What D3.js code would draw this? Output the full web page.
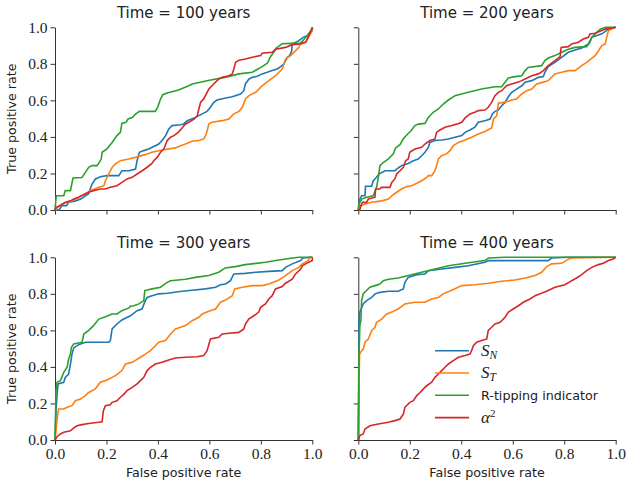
<!DOCTYPE html>
<html>
<head>
<meta charset="utf-8">
<script src="https://cdn.jsdelivr.net/npm/d3@7"></script>
<style>
  html, body { margin: 0; padding: 0; background: #fff; }
  svg { display: block; }
</style>
</head>
<body>
<div id="chart"></div>
<script>
// ---------------- DATA ----------------
const times = [100, 200, 300, 400];
const seriesKeys = ["SN", "ST", "RT", "A2"];
const tickValues = [0, 0.2, 0.4, 0.6, 0.8, 1.0];
const xLabel = "False positive rate";
const yLabel = "True positive rate";

// ROC curves: [false positive rate, true positive rate]
const SN_100 = [[0,0],[0.015,0],[0.02,0.01],[0.027,0.024],[0.045,0.024],[0.053,0.042],[0.08,0.05],[0.1,0.06],[0.118,0.078],[0.13,0.088],[0.137,0.115],[0.144,0.142],[0.157,0.17],[0.176,0.182],[0.202,0.188],[0.248,0.188],[0.26,0.215],[0.287,0.215],[0.313,0.224],[0.319,0.27],[0.328,0.316],[0.345,0.325],[0.364,0.334],[0.39,0.352],[0.403,0.361],[0.416,0.38],[0.43,0.407],[0.442,0.443],[0.455,0.462],[0.488,0.467],[0.5,0.471],[0.514,0.489],[0.546,0.507],[0.572,0.526],[0.591,0.54],[0.604,0.562],[0.617,0.589],[0.63,0.602],[0.663,0.613],[0.689,0.62],[0.721,0.635],[0.734,0.653],[0.74,0.69],[0.754,0.717],[0.767,0.726],[0.786,0.732],[0.805,0.745],[0.825,0.754],[0.844,0.763],[0.864,0.772],[0.877,0.785],[0.89,0.8],[0.903,0.836],[0.912,0.845],[0.92,0.872],[0.922,0.909],[0.948,0.927],[0.964,0.945],[0.98,0.954],[1,0.99],[1,1]];
const ST_100 = [[0,0],[0.027,0.033],[0.066,0.05],[0.092,0.07],[0.118,0.088],[0.137,0.106],[0.17,0.124],[0.19,0.133],[0.196,0.16],[0.209,0.197],[0.222,0.233],[0.235,0.252],[0.254,0.27],[0.287,0.279],[0.313,0.288],[0.35,0.303],[0.377,0.316],[0.416,0.328],[0.468,0.34],[0.488,0.352],[0.507,0.361],[0.533,0.376],[0.559,0.38],[0.578,0.389],[0.588,0.416],[0.598,0.47],[0.61,0.48],[0.65,0.489],[0.676,0.498],[0.695,0.526],[0.715,0.54],[0.728,0.562],[0.74,0.608],[0.754,0.626],[0.78,0.644],[0.805,0.68],[0.831,0.708],[0.857,0.735],[0.883,0.772],[0.896,0.827],[0.916,0.845],[0.935,0.872],[0.948,0.89],[0.955,0.918],[0.974,0.918],[0.993,0.964],[1,0.98],[1,1]];
const RT_100 = [[0,0],[0.005,0.078],[0.034,0.078],[0.04,0.106],[0.06,0.106],[0.07,0.175],[0.105,0.178],[0.118,0.206],[0.131,0.234],[0.144,0.243],[0.163,0.243],[0.17,0.255],[0.18,0.28],[0.183,0.316],[0.202,0.334],[0.222,0.37],[0.241,0.407],[0.254,0.425],[0.26,0.474],[0.276,0.48],[0.284,0.498],[0.3,0.506],[0.313,0.525],[0.328,0.54],[0.39,0.54],[0.4,0.566],[0.41,0.607],[0.419,0.631],[0.436,0.64],[0.48,0.657],[0.52,0.68],[0.533,0.69],[0.6,0.71],[0.66,0.726],[0.715,0.745],[0.767,0.754],[0.805,0.785],[0.825,0.803],[0.838,0.84],[0.855,0.872],[0.86,0.887],[0.883,0.91],[0.922,0.912],[0.955,0.914],[0.98,0.954],[1,0.99],[1,1]];
const A2_100 = [[0,0],[0.004,0.015],[0.02,0.024],[0.04,0.042],[0.06,0.05],[0.073,0.06],[0.092,0.07],[0.11,0.084],[0.13,0.097],[0.15,0.106],[0.176,0.115],[0.196,0.115],[0.215,0.124],[0.241,0.133],[0.26,0.151],[0.28,0.17],[0.3,0.179],[0.319,0.197],[0.339,0.215],[0.358,0.234],[0.377,0.255],[0.384,0.27],[0.397,0.288],[0.41,0.316],[0.423,0.334],[0.436,0.38],[0.449,0.398],[0.462,0.407],[0.479,0.425],[0.494,0.449],[0.507,0.471],[0.52,0.48],[0.54,0.498],[0.553,0.516],[0.559,0.553],[0.566,0.59],[0.578,0.608],[0.588,0.635],[0.598,0.662],[0.61,0.68],[0.624,0.7],[0.637,0.717],[0.65,0.726],[0.676,0.735],[0.689,0.745],[0.695,0.772],[0.702,0.808],[0.715,0.82],[0.74,0.826],[0.767,0.836],[0.799,0.845],[0.805,0.858],[0.844,0.863],[0.857,0.88],[0.896,0.89],[0.922,0.905],[0.955,0.909],[0.974,0.918],[0.987,0.954],[1,1]];

const SN_200 = [[0,0],[0.003,0.05],[0.013,0.078],[0.026,0.078],[0.028,0.13],[0.052,0.13],[0.058,0.16],[0.071,0.179],[0.08,0.197],[0.104,0.215],[0.142,0.215],[0.155,0.23],[0.168,0.243],[0.194,0.255],[0.214,0.27],[0.233,0.279],[0.246,0.297],[0.259,0.316],[0.272,0.343],[0.278,0.37],[0.298,0.38],[0.324,0.383],[0.35,0.389],[0.376,0.398],[0.402,0.407],[0.415,0.425],[0.434,0.438],[0.453,0.453],[0.466,0.48],[0.492,0.489],[0.512,0.498],[0.521,0.526],[0.531,0.54],[0.544,0.547],[0.557,0.571],[0.57,0.589],[0.583,0.62],[0.596,0.644],[0.615,0.662],[0.635,0.68],[0.648,0.7],[0.674,0.708],[0.7,0.726],[0.719,0.73],[0.725,0.754],[0.738,0.785],[0.764,0.808],[0.79,0.836],[0.816,0.863],[0.842,0.876],[0.868,0.887],[0.894,0.909],[0.907,0.945],[0.946,0.964],[0.972,0.99],[1,1]];
const ST_200 = [[0,0],[0.003,0.015],[0.013,0.024],[0.026,0.033],[0.052,0.042],[0.091,0.05],[0.117,0.06],[0.13,0.078],[0.149,0.097],[0.168,0.115],[0.188,0.128],[0.207,0.133],[0.227,0.146],[0.246,0.16],[0.266,0.179],[0.272,0.188],[0.285,0.188],[0.298,0.215],[0.304,0.243],[0.311,0.28],[0.324,0.297],[0.343,0.307],[0.356,0.325],[0.369,0.352],[0.389,0.37],[0.415,0.383],[0.44,0.398],[0.466,0.416],[0.492,0.43],[0.518,0.449],[0.525,0.498],[0.538,0.516],[0.544,0.584],[0.563,0.589],[0.583,0.595],[0.596,0.602],[0.615,0.608],[0.635,0.635],[0.654,0.653],[0.674,0.662],[0.693,0.69],[0.719,0.7],[0.738,0.708],[0.764,0.745],[0.79,0.754],[0.816,0.763],[0.842,0.763],[0.868,0.79],[0.887,0.808],[0.92,0.845],[0.933,0.872],[0.946,0.9],[0.959,0.909],[0.965,0.945],[0.972,0.982],[0.985,0.99],[1,1]];
const RT_200 = [[0,0],[0.003,0.033],[0.013,0.06],[0.032,0.07],[0.058,0.078],[0.071,0.124],[0.078,0.179],[0.084,0.243],[0.097,0.26],[0.117,0.28],[0.136,0.307],[0.145,0.34],[0.162,0.358],[0.175,0.39],[0.192,0.416],[0.205,0.434],[0.22,0.462],[0.233,0.47],[0.259,0.474],[0.272,0.507],[0.291,0.535],[0.311,0.553],[0.33,0.58],[0.35,0.602],[0.376,0.626],[0.427,0.644],[0.479,0.662],[0.531,0.675],[0.557,0.675],[0.57,0.699],[0.583,0.723],[0.609,0.73],[0.635,0.735],[0.648,0.763],[0.66,0.78],[0.712,0.79],[0.725,0.818],[0.738,0.832],[0.764,0.845],[0.79,0.863],[0.816,0.88],[0.842,0.89],[0.887,0.894],[0.9,0.918],[0.907,0.945],[0.92,0.964],[0.94,0.99],[0.96,1],[1,1]];
const A2_200 = [[0,0],[0.006,0],[0.01,0.024],[0.016,0.042],[0.032,0.042],[0.039,0.06],[0.065,0.07],[0.067,0.115],[0.084,0.115],[0.09,0.124],[0.123,0.124],[0.13,0.151],[0.142,0.17],[0.149,0.197],[0.162,0.215],[0.175,0.234],[0.184,0.27],[0.194,0.279],[0.2,0.316],[0.22,0.334],[0.246,0.343],[0.259,0.361],[0.278,0.38],[0.298,0.389],[0.304,0.425],[0.317,0.438],[0.337,0.453],[0.363,0.462],[0.382,0.47],[0.402,0.48],[0.415,0.504],[0.434,0.526],[0.453,0.535],[0.466,0.544],[0.492,0.547],[0.505,0.562],[0.518,0.589],[0.531,0.626],[0.544,0.644],[0.557,0.653],[0.576,0.68],[0.596,0.69],[0.622,0.7],[0.635,0.708],[0.648,0.717],[0.674,0.735],[0.7,0.745],[0.719,0.763],[0.738,0.79],[0.764,0.818],[0.784,0.84],[0.788,0.89],[0.816,0.894],[0.829,0.909],[0.855,0.918],[0.874,0.936],[0.894,0.945],[0.9,0.964],[0.92,0.967],[0.946,0.982],[0.959,0.99],[1,1]];

const SN_300 = [[0,0],[0.004,0.16],[0.008,0.25],[0.012,0.307],[0.034,0.316],[0.04,0.343],[0.053,0.361],[0.06,0.416],[0.066,0.47],[0.073,0.504],[0.092,0.522],[0.118,0.535],[0.209,0.535],[0.215,0.544],[0.222,0.608],[0.241,0.635],[0.26,0.657],[0.293,0.68],[0.319,0.708],[0.338,0.717],[0.351,0.763],[0.358,0.78],[0.377,0.79],[0.403,0.8],[0.436,0.803],[0.494,0.814],[0.533,0.82],[0.585,0.827],[0.624,0.836],[0.643,0.85],[0.663,0.854],[0.682,0.872],[0.695,0.909],[0.74,0.912],[0.78,0.918],[0.831,0.923],[0.883,0.927],[0.896,0.945],[0.922,0.964],[0.955,0.982],[0.962,0.996],[1,1]];
const ST_300 = [[0,0],[0.004,0.05],[0.008,0.115],[0.014,0.17],[0.034,0.17],[0.047,0.179],[0.066,0.188],[0.079,0.215],[0.099,0.224],[0.118,0.243],[0.131,0.26],[0.157,0.28],[0.176,0.316],[0.202,0.328],[0.235,0.352],[0.26,0.38],[0.274,0.416],[0.3,0.425],[0.332,0.453],[0.351,0.47],[0.371,0.489],[0.39,0.516],[0.403,0.535],[0.429,0.544],[0.449,0.58],[0.468,0.608],[0.488,0.617],[0.507,0.626],[0.533,0.653],[0.559,0.672],[0.572,0.69],[0.598,0.705],[0.624,0.717],[0.643,0.754],[0.663,0.766],[0.689,0.79],[0.699,0.827],[0.728,0.836],[0.767,0.845],[0.805,0.845],[0.831,0.854],[0.87,0.876],[0.896,0.9],[0.922,0.927],[0.948,0.945],[0.961,0.964],[0.984,0.982],[0.99,1],[1,1]];
const RT_300 = [[0,0],[0.004,0.27],[0.008,0.316],[0.021,0.325],[0.034,0.37],[0.047,0.398],[0.053,0.443],[0.06,0.47],[0.064,0.507],[0.073,0.526],[0.105,0.535],[0.112,0.58],[0.131,0.6],[0.15,0.626],[0.17,0.662],[0.196,0.675],[0.222,0.69],[0.241,0.69],[0.26,0.708],[0.287,0.723],[0.293,0.732],[0.306,0.735],[0.326,0.745],[0.345,0.763],[0.349,0.818],[0.377,0.827],[0.41,0.836],[0.436,0.863],[0.449,0.872],[0.507,0.88],[0.546,0.89],[0.598,0.9],[0.636,0.918],[0.662,0.942],[0.7,0.949],[0.74,0.96],[0.818,0.973],[0.87,0.985],[0.91,0.993],[0.948,1],[1,1]];
const A2_300 = [[0,0],[0.008,0.018],[0.021,0.033],[0.034,0.042],[0.06,0.05],[0.073,0.066],[0.086,0.078],[0.105,0.084],[0.131,0.09],[0.17,0.097],[0.183,0.1],[0.188,0.16],[0.196,0.188],[0.215,0.193],[0.222,0.206],[0.241,0.215],[0.254,0.234],[0.267,0.25],[0.28,0.27],[0.3,0.288],[0.319,0.307],[0.332,0.325],[0.345,0.343],[0.358,0.38],[0.371,0.398],[0.39,0.416],[0.416,0.425],[0.442,0.438],[0.468,0.449],[0.507,0.453],[0.552,0.456],[0.578,0.462],[0.591,0.489],[0.604,0.553],[0.636,0.562],[0.65,0.58],[0.676,0.584],[0.714,0.589],[0.734,0.608],[0.74,0.635],[0.753,0.662],[0.773,0.68],[0.792,0.7],[0.799,0.726],[0.818,0.745],[0.831,0.772],[0.844,0.79],[0.857,0.827],[0.883,0.84],[0.896,0.858],[0.922,0.88],[0.935,0.909],[0.955,0.936],[0.961,0.954],[0.974,0.964],[1,0.982],[1,1]];

const SN_400 = [[0,0],[0.003,0.653],[0.006,0.7],[0.019,0.745],[0.032,0.763],[0.052,0.78],[0.065,0.8],[0.084,0.808],[0.117,0.814],[0.155,0.814],[0.175,0.827],[0.181,0.863],[0.194,0.89],[0.227,0.905],[0.259,0.909],[0.272,0.927],[0.324,0.936],[0.376,0.945],[0.427,0.954],[0.492,0.973],[0.505,0.982],[0.738,0.982],[0.751,0.996],[0.816,1],[1,1]];
const ST_400 = [[0,0],[0.003,0.316],[0.005,0.47],[0.013,0.489],[0.019,0.498],[0.026,0.535],[0.039,0.553],[0.052,0.6],[0.065,0.617],[0.071,0.644],[0.091,0.662],[0.11,0.69],[0.13,0.7],[0.155,0.717],[0.181,0.745],[0.22,0.754],[0.259,0.754],[0.285,0.772],[0.311,0.78],[0.33,0.8],[0.363,0.82],[0.402,0.845],[0.453,0.85],[0.505,0.858],[0.557,0.869],[0.609,0.876],[0.648,0.887],[0.687,0.9],[0.712,0.918],[0.732,0.949],[0.751,0.964],[0.79,0.967],[0.816,0.99],[0.829,0.996],[1,1]];
const RT_400 = [[0,0],[0.003,0.47],[0.006,0.626],[0.01,0.653],[0.013,0.763],[0.019,0.8],[0.032,0.818],[0.045,0.836],[0.065,0.845],[0.084,0.854],[0.097,0.872],[0.117,0.88],[0.155,0.887],[0.175,0.894],[0.194,0.9],[0.246,0.918],[0.298,0.936],[0.35,0.954],[0.415,0.967],[0.492,0.982],[0.505,0.996],[0.57,1],[1,1]];
const A2_400 = [[0,0],[0.006,0.024],[0.019,0.033],[0.026,0.06],[0.045,0.078],[0.078,0.088],[0.117,0.097],[0.142,0.106],[0.162,0.115],[0.175,0.142],[0.181,0.179],[0.2,0.206],[0.214,0.215],[0.227,0.243],[0.24,0.26],[0.253,0.28],[0.266,0.297],[0.285,0.316],[0.298,0.343],[0.311,0.361],[0.324,0.38],[0.337,0.398],[0.35,0.416],[0.369,0.434],[0.389,0.453],[0.415,0.462],[0.434,0.47],[0.44,0.489],[0.447,0.516],[0.46,0.535],[0.479,0.544],[0.499,0.553],[0.505,0.6],[0.518,0.617],[0.531,0.635],[0.551,0.644],[0.57,0.672],[0.583,0.7],[0.602,0.717],[0.622,0.735],[0.641,0.754],[0.667,0.772],[0.687,0.79],[0.712,0.803],[0.738,0.818],[0.764,0.836],[0.803,0.85],[0.829,0.872],[0.848,0.887],[0.868,0.905],[0.887,0.927],[0.907,0.945],[0.933,0.96],[0.952,0.967],[0.972,0.982],[0.99,0.99],[1,1]];

const curves = {
  100: {SN: SN_100, ST: ST_100, RT: RT_100, A2: A2_100},
  200: {SN: SN_200, ST: ST_200, RT: RT_200, A2: A2_200},
  300: {SN: SN_300, ST: ST_300, RT: RT_300, A2: A2_300},
  400: {SN: SN_400, ST: ST_400, RT: RT_400, A2: A2_400}
};

// ---------------- STYLE / LAYOUT ----------------
const W = 631, H = 489;
const colors = {SN: "#1f77b4", ST: "#ff7f0e", RT: "#2ca02c", A2: "#d62728"};
const colX = [[55, 312.3], [358.3, 615.7]];
const rowY = [[27.3, 210], [257.3, 440]];
const axisColor = "#333";
const tickFont = "Liberation Serif";
const sansFont = "DejaVu Sans";

const svg = d3.select("#chart").append("svg")
  .attr("width", W).attr("height", H)
  .attr("viewBox", `0 0 ${W} ${H}`);

times.forEach((t, i) => {
  const col = i % 2, row = Math.floor(i / 2);
  const x = d3.scaleLinear().domain([0, 1]).range(colX[col]);
  const y = d3.scaleLinear().domain([0, 1]).range([rowY[row][1], rowY[row][0]]);
  const g = svg.append("g");

  const showXLabels = row === 1;
  const showYLabels = col === 0;

  const xAxis = d3.axisBottom(x).tickValues(tickValues).tickSize(4.5).tickSizeOuter(0).tickPadding(3)
    .tickFormat(showXLabels ? d3.format(".1f") : "");
  const yAxis = d3.axisLeft(y).tickValues(tickValues).tickSize(4.5).tickSizeOuter(0).tickPadding(3)
    .tickFormat(showYLabels ? d3.format(".1f") : "");

  const gx = g.append("g").attr("transform", `translate(0,${rowY[row][1]})`).call(xAxis);
  const gy = g.append("g").attr("transform", `translate(${colX[col][0]},0)`).call(yAxis);
  [gx, gy].forEach(a => {
    a.attr("font-family", null).attr("font-size", null);
    a.select(".domain").attr("stroke", axisColor).attr("stroke-width", 1);
    a.selectAll(".tick line").attr("stroke", axisColor).attr("stroke-width", 1);
    a.selectAll(".tick text").attr("fill", "#222")
      .attr("font-family", tickFont).attr("font-size", 15.5);
  });

  // curves
  const line = d3.line().x(d => x(d[0])).y(d => y(d[1])).curve(d3.curveLinear);
  seriesKeys.forEach(k => {
    g.append("path")
      .datum(curves[t][k])
      .attr("fill", "none")
      .attr("stroke", colors[k])
      .attr("stroke-width", 1.6)
      .attr("stroke-linejoin", "miter")
      .attr("d", line);
  });

  // title
  g.append("text")
    .attr("x", (colX[col][0] + colX[col][1]) / 2)
    .attr("y", rowY[row][0] - 9)
    .attr("text-anchor", "middle")
    .attr("fill", "#222")
    .attr("font-family", sansFont).attr("font-size", 15)
    .text(`Time = ${t} years`);

  if (showXLabels) {
    g.append("text")
      .attr("x", (colX[col][0] + colX[col][1]) / 2)
      .attr("y", rowY[row][1] + 37)
      .attr("text-anchor", "middle")
      .attr("fill", "#222")
      .attr("font-family", sansFont).attr("font-size", 12.7)
      .text(xLabel);
  }
  if (showYLabels) {
    const cy = (rowY[row][0] + rowY[row][1]) / 2;
    g.append("text")
      .attr("transform", `translate(16,${cy}) rotate(-90)`)
      .attr("text-anchor", "middle")
      .attr("fill", "#222")
      .attr("font-family", sansFont).attr("font-size", 12.7)
      .text(yLabel);
  }

  // legend in last panel
  if (i === 3) {
    const lg = g.append("g").attr("transform", "translate(435,350.7)");
    const spacing = 22.3;
    seriesKeys.forEach((k, j) => {
      const r = lg.append("g").attr("transform", `translate(0,${j * spacing})`);
      r.append("line").attr("x1", 0).attr("x2", 34).attr("y1", 0).attr("y2", 0)
        .attr("stroke", colors[k]).attr("stroke-width", 1.6);
      const tx = r.append("text").attr("x", 46).attr("y", 5).attr("fill", "#222");
      if (k === "SN" || k === "ST") {
        tx.append("tspan").attr("font-family", "Liberation Serif").attr("font-style", "italic")
          .attr("font-size", 17).text("S");
        tx.append("tspan").attr("font-family", "Liberation Serif").attr("font-style", "italic")
          .attr("font-size", 11.5).attr("dy", 3).text(k === "SN" ? "N" : "T");
      } else if (k === "RT") {
        tx.attr("font-family", sansFont).attr("font-size", 12.7).text("R-tipping indicator");
      } else {
        tx.append("tspan").attr("font-family", "Liberation Serif").attr("font-style", "italic")
          .attr("font-size", 17).text("α");
        tx.append("tspan").attr("font-family", "Liberation Serif")
          .attr("font-size", 11).attr("dy", -6).text("2");
      }
    });
  }
});
</script>
</body>
</html>
